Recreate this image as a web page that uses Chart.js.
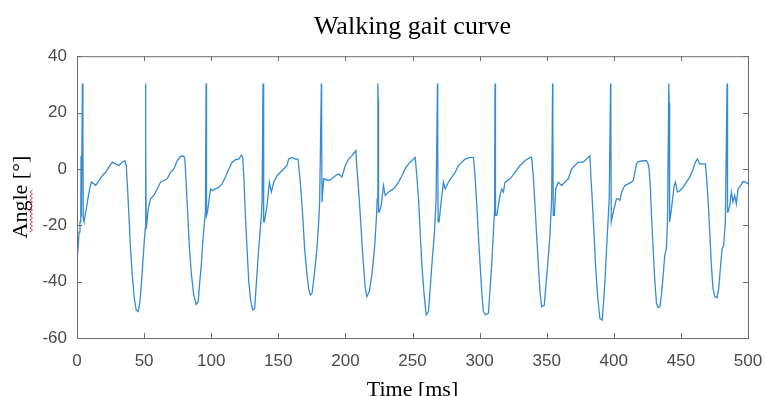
<!DOCTYPE html>
<html>
<head>
<meta charset="utf-8">
<title>Walking gait curve</title>
<script src="https://cdn.jsdelivr.net/npm/chart.js@4.4.1/dist/chart.umd.min.js"></script>
<style>
  html, body { margin: 0; padding: 0; background: #fff; }
  canvas { display: block; }
</style>
</head>
<body>
<canvas id="graficoMarcha" width="765" height="396"></canvas>
<script>
// valores (tempo em ms, angulo em graus)
const timeMs = [
  0.0, 1.0, 1.5, 2.2, 2.8, 3.0, 3.3, 4.0, 4.4, 4.7, 5.2, 6.5, 7.7, 9.4, 10.7, 12.6, 13.9, 16.4, 18.9, 21.3,
  23.8, 26.3, 28.8, 31.3, 33.7, 35.7, 36.7, 37.7, 38.7, 39.9, 41.2, 42.7, 44.1, 45.6, 46.9, 48.1, 49.1, 50.1, 50.8,
  51.1, 51.3, 51.6, 51.8, 53.1, 54.8, 57.3, 59.8, 62.2, 64.7, 67.2, 69.7, 72.2, 74.6, 77.1, 79.6, 80.4,
  81.3, 82.6, 83.8, 85.3, 87.0, 88.8, 90.3, 91.5, 92.8, 93.7, 95.0, 95.7,
  96.2, 96.4, 96.6, 97.2, 98.2, 99.5, 100.7, 103.2, 105.7, 108.1, 110.6, 113.1, 115.6, 118.1, 120.5, 122.5, 123.5,
  124.5, 125.5, 126.7, 128.0, 129.5, 131.0, 132.4, 133.4, 135.4, 137.4, 137.9,
  138.6, 138.9, 139.3, 139.6, 141.6, 143.4, 144.8, 146.6, 149.1, 151.5, 154.0, 156.5, 157.7, 160.2, 162.7, 164.7,
  166.4, 168.2, 169.6, 171.4, 172.6, 173.9, 175.1, 176.8, 178.8, 180.1, 180.8,
  182.1, 182.3, 182.6, 183.8, 187.5, 190.0, 192.5, 195.0, 197.4, 199.9, 202.4, 204.9, 207.8,
  208.6, 209.8, 211.1, 212.3, 213.5, 214.8, 216.0, 217.8, 219.7, 221.7, 223.2, 223.7,
  224.2, 224.4, 224.7, 225.2, 226.7, 228.4, 229.7, 232.1, 235.9, 239.6, 242.1, 244.5, 247.0, 249.5, 252.0,
  253.2, 254.5, 255.7, 257.0, 258.7, 260.2, 261.9, 263.2, 264.4, 266.4, 267.6,
  268.6, 268.8, 269.1, 269.8, 271.3, 273.1, 274.3, 276.8, 279.3, 281.8, 284.2, 286.7, 289.2, 292.9, 295.4,
  296.6, 297.9, 299.1, 300.4, 301.6, 302.8, 304.6, 306.6, 307.8, 309.0, 310.3, 311.2,
  311.5, 311.7, 312.0, 312.8, 314.0, 315.2, 316.5, 317.7, 319.0, 322.7, 326.4, 330.1, 333.8, 337.6, 338.8,
  340.0, 341.3, 342.5, 343.8, 345.0, 346.2, 348.2, 349.2, 350.7, 352.4, 353.7,
  354.4, 354.6, 354.9, 355.7, 356.7, 358.6, 361.1, 363.6, 366.1, 368.6, 371.0, 373.5, 377.2, 379.7, 382.2,
  382.9, 383.9, 385.2, 386.4, 387.9, 389.6, 391.4, 392.4, 393.4, 394.6, 395.8, 396.6,
  397.6, 397.8, 398.1, 398.3, 399.6, 402.0, 403.3, 404.5, 405.8, 408.2, 410.7, 413.2, 414.5, 415.7, 416.9,
  418.2, 421.9, 424.4, 425.6, 426.3,
  427.3, 428.1, 429.3, 430.6, 431.8, 433.0, 434.3, 435.5, 436.8, 438.0, 439.2, 440.0,
  441.0, 441.2, 441.5, 441.7, 443.0, 445.0, 445.9, 447.4, 449.2, 451.6, 454.1, 456.6, 459.1, 460.8, 462.3,
  464.0, 466.5, 468.3, 469.0,
  470.2, 471.5, 472.7, 473.9, 475.2, 476.9, 478.2, 479.4, 480.7, 481.9, 483.1,
  484.4, 484.6, 484.9, 485.1, 486.4, 487.6, 488.8, 490.1, 491.3, 492.6, 494.5, 496.3, 498.3, 500.0
];
const angleDeg = [
  -31.8, -27.1, -22.4, -18.8, -18.8, 4.7, -17.0, 30.3, 8.8, -18.0, -18.8, -15.3, -11.8, -7.1, -4.7, -5.3, -5.9, -4.1, -2.4, -1.2,
  0.6, 2.4, 1.8, 1.2, 2.4, 2.9, 1.2, -7.1, -16.5, -28.3, -37.7, -45.9, -50.1, -50.6, -47.1, -40.0, -33.0, -25.9, -21.2,
  30.3, 7.1, -21.2, -21.2, -14.1, -10.6, -9.4, -7.1, -4.7, -4.1, -3.5, -1.2, 0.0, 2.9, 4.5, 4.5, 3.5,
  -4.7, -16.5, -28.3, -37.7, -44.8, -48.1, -47.1, -40.0, -33.0, -25.9, -18.8, -15.3,
  30.3, 16.5, -16.5, -15.3, -11.8, -7.1, -7.7, -7.1, -6.5, -5.3, -2.9, 0.0, 2.4, 3.3, 3.5, 4.9, 4.1,
  -4.7, -16.5, -28.3, -40.0, -47.1, -50.1, -49.5, -42.4, -28.3, -16.5, -11.8,
  30.3, 22.4, -18.8, -18.8, -13.0, -4.7, -8.2, -4.7, -2.4, -1.2, 0.0, 1.2, 3.5, 4.1, 3.5, 3.5,
  -4.7, -16.5, -28.3, -37.7, -42.4, -44.8, -44.2, -37.7, -28.3, -18.8, -11.8,
  30.3, 11.8, -11.8, -3.5, -4.1, -3.5, -2.4, -1.8, -2.9, 1.2, 3.5, 4.7, 6.5,
  0.0, -7.1, -16.5, -25.9, -34.2, -42.4, -45.3, -43.6, -37.7, -28.3, -16.5, -10.6,
  30.3, 24.7, -15.3, -15.3, -13.0, -5.9, -9.4, -8.2, -7.1, -4.7, -2.4, 0.0, 1.8, 2.9, 4.1,
  -2.4, -10.6, -22.4, -34.2, -44.8, -51.8, -50.6, -42.4, -34.2, -22.4, -10.6,
  30.3, 8.2, -18.8, -18.8, -11.8, -4.7, -7.1, -4.7, -2.9, -1.2, 1.2, 2.4, 3.5, 4.1, 4.1,
  -2.4, -13.0, -23.6, -34.2, -43.6, -50.6, -51.8, -51.2, -42.4, -34.2, -22.4, -14.1,
  30.3, 24.7, -16.5, -16.5, -13.0, -9.4, -7.1, -8.2, -4.7, -3.5, -1.2, 1.2, 2.9, 4.1, 4.1,
  -2.4, -13.0, -23.6, -34.2, -43.6, -48.9, -48.3, -42.4, -34.2, -23.6, -10.6,
  30.3, 14.1, -16.5, -16.5, -7.1, -4.7, -5.9, -4.7, -3.5, 0.0, 1.2, 2.4, 2.4, 3.5, 4.7,
  -2.4, -10.6, -22.4, -34.2, -44.8, -53.0, -53.6, -47.1, -40.0, -28.3, -17.7, -10.6,
  30.3, 19.4, -18.8, -18.8, -15.3, -10.6, -10.6, -11.2, -8.2, -5.9, -5.3, -4.7, -4.1, -1.2, 1.8,
  2.6, 2.9, 2.9, 1.8, 0.0,
  -7.1, -16.5, -28.3, -40.0, -47.7, -49.2, -48.9, -44.8, -37.7, -30.6, -28.3, -18.8,
  30.3, 23.6, -18.8, -18.8, -14.1, -5.9, -4.7, -8.2, -7.7, -6.5, -4.7, -2.9, 0.0, 2.4, 3.5,
  1.8, 1.8, 1.8, -2.4,
  -10.6, -22.4, -34.2, -42.4, -45.3, -45.7, -42.4, -35.3, -28.3, -27.1, -18.8,
  30.3, 10.6, -15.3, -15.3, -13.0, -8.2, -11.8, -9.4, -12.4, -7.1, -5.9, -4.5, -4.7, -5.3
];
const xTicks = [0, 50, 100, 150, 200, 250, 300, 350, 400, 450, 500];
const yTicks = [-60, -40, -20, 0, 20, 40];

const pontos = timeMs.map((t, i) => ({ x: t, y: angleDeg[i] }));

// caixa estilo matlab com ticks para dentro nos quatro lados
const caixaPlugin = {
  id: 'caixa',
  afterDraw(chart) {
    const { ctx, chartArea: a, scales } = chart;
    const tam = 5;
    ctx.save();
    ctx.strokeStyle = '#6e6e6e';
    ctx.lineWidth = 1;
    ctx.strokeRect(a.left + 0.5, a.top + 0.5, a.right - a.left, a.bottom - a.top);
    ctx.beginPath();
    xTicks.forEach(v => {
      const px = Math.round(scales.x.getPixelForValue(v)) + 0.5;
      ctx.moveTo(px, a.bottom); ctx.lineTo(px, a.bottom - tam);
      ctx.moveTo(px, a.top); ctx.lineTo(px, a.top + tam);
    });
    yTicks.forEach(v => {
      const py = Math.round(scales.y.getPixelForValue(v)) + 0.5;
      ctx.moveTo(a.left, py); ctx.lineTo(a.left + tam, py);
      ctx.moveTo(a.right, py); ctx.lineTo(a.right - tam, py);
    });
    ctx.stroke();

    // sublinhado ondulado vermelho (corretor ortografico) sob "Angle"
    ctx.strokeStyle = '#e03030';
    ctx.lineWidth = 1;
    ctx.beginPath();
    let lado = 0;
    for (let y = 232; y >= 190; y -= 2) {
      const x = lado ? 32.5 : 30;
      if (y === 232) ctx.moveTo(x, y); else ctx.lineTo(x, y);
      lado = 1 - lado;
    }
    ctx.stroke();
    ctx.restore();
  }
};

const fonteEixo = { family: "'Liberation Sans', Arial, sans-serif", size: 17 };
const fonteTitulo = { family: "'Liberation Serif', 'Times New Roman', serif", size: 22 };

new Chart(document.getElementById('graficoMarcha').getContext('2d'), {
  type: 'line',
  data: {
    datasets: [{
      data: pontos,
      borderColor: '#358cd3',
      borderWidth: 1.3,
      pointRadius: 0,
      fill: false,
      tension: 0
    }]
  },
  options: {
    responsive: false,
    animation: false,
    devicePixelRatio: 1,
    layout: { padding: { left: 0, right: 17, top: 0, bottom: 0 } },
    plugins: {
      legend: { display: false },
      tooltip: { enabled: false },
      title: {
        display: true,
        fullSize: false,
        text: 'Walking gait curve',
        color: '#000',
        font: { family: "'Liberation Serif', 'Times New Roman', serif", size: 26, weight: 'normal' },
        padding: { top: 12, bottom: 13 }
      }
    },
    scales: {
      x: {
        type: 'linear',
        min: 0,
        max: 500,
        grid: { display: false, drawTicks: false },
        border: { display: false },
        ticks: { color: '#4a4a4a', font: fonteEixo, padding: 13, maxRotation: 0, autoSkip: false },
        afterBuildTicks: s => { s.ticks = xTicks.map(v => ({ value: v })); },
        afterFit: s => { s.height = 58; s.paddingLeft = 0; s.paddingRight = 0; },
        title: {
          display: true,
          text: 'Time [ms]',
          color: '#000',
          font: { ...fonteTitulo, lineHeight: 0.55 },
          padding: { top: 0, bottom: 0 }
        }
      },
      y: {
        min: -60,
        max: 40,
        grid: { display: false, drawTicks: false },
        border: { display: false },
        ticks: { color: '#4a4a4a', font: fonteEixo, padding: 10 },
        afterBuildTicks: s => { s.ticks = yTicks.map(v => ({ value: v })); },
        afterFit: s => { s.width = 77; s.paddingTop = 0; s.paddingBottom = 0; },
        title: {
          display: true,
          text: 'Angle [°]',
          color: '#000',
          font: fonteTitulo,
          padding: { top: 8, bottom: 0 }
        }
      }
    }
  },
  plugins: [caixaPlugin]
});
</script>
</body>
</html>
